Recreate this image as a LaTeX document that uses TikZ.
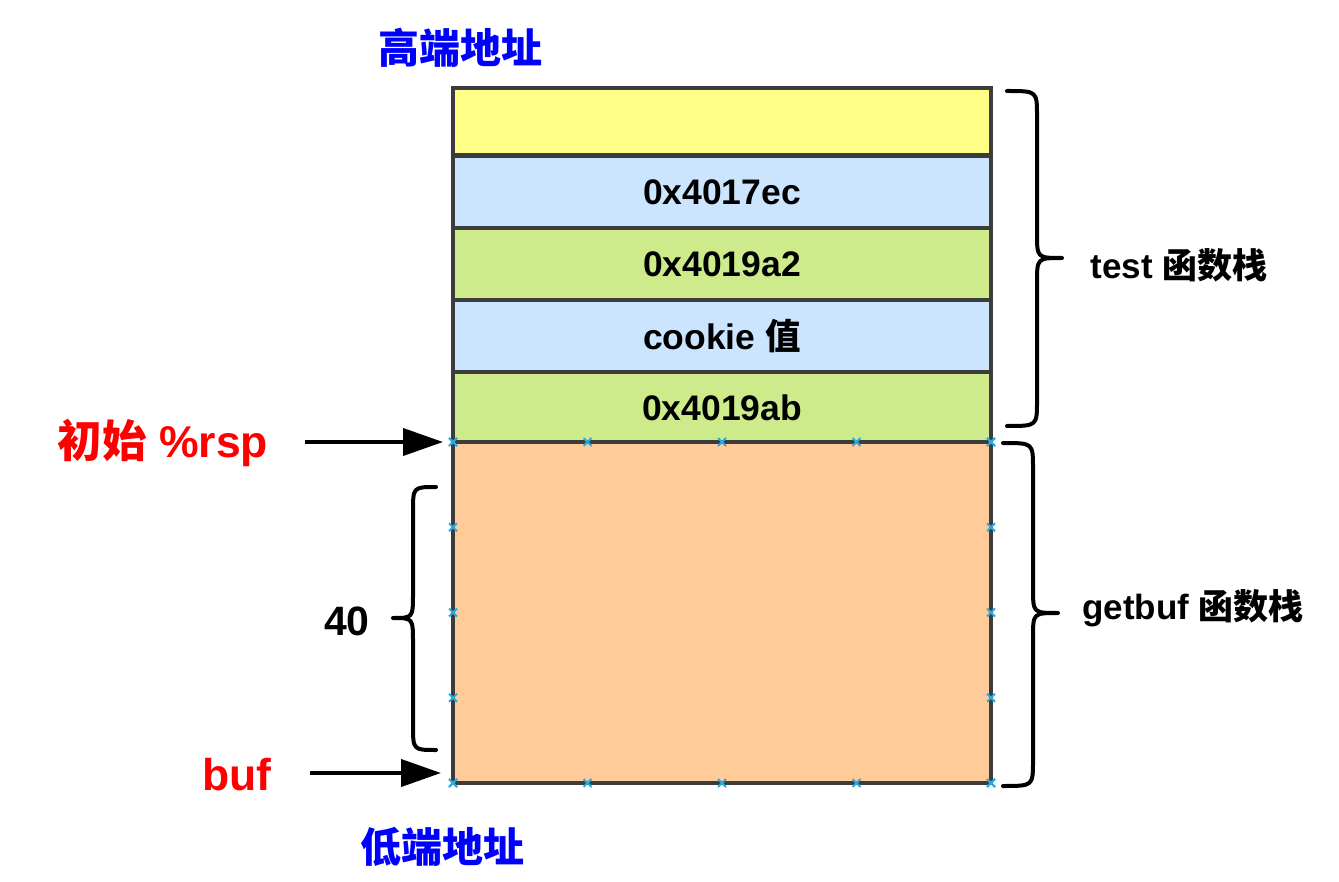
\documentclass[tikz,border=0pt]{standalone}
\usepackage{fontspec}
\setmainfont{Liberation Sans}
\newfontfamily\cjk{Noto Sans CJK SC}
\usetikzlibrary{arrows.meta,calc}
\definecolor{edgec}{HTML}{3C3C3C}
\definecolor{yel}{HTML}{FFFF88}
\definecolor{blu}{HTML}{CCE5FF}
\definecolor{grn}{HTML}{CDEB8B}
\definecolor{org}{HTML}{FFCC99}
\definecolor{mark}{RGB}{41,171,226}
\definecolor{lblblue}{RGB}{0,0,255}
\definecolor{lblred}{RGB}{255,0,0}
\newcommand{\mybrace}[6]{\draw[bracestyle] (#1,#4) .. controls (#2,#4) and (#2,#4) .. (#2,#4+25) -- (#2,#5-25) .. controls (#2,#5) and (#2,#5) .. (#3,#5) .. controls (#2,#5) and (#2,#5) .. (#2,#5+25) -- (#2,#6-25) .. controls (#2,#6) and (#2,#6) .. (#1,#6);}
\begin{document}
\begin{tikzpicture}[x=1pt,y=-1pt,
  cell/.style={draw=edgec,line width=4.5pt,minimum width=538pt,inner sep=0pt,outer sep=0pt,
    font=\fontsize{35.5}{40}\selectfont\bfseries},
  bracestyle/.style={line width=4pt,line join=round,line cap=round},
  arr/.style={line width=4pt,-{Triangle[length=40pt,width=27pt]}},
  lbl/.style={inner sep=0pt,font=\fontsize{41}{48}\selectfont\bfseries},
  redlbl/.style={inner sep=0pt,text=lblred,font=\fontsize{44.5}{50}\selectfont\bfseries},
  side/.style={inner sep=0pt,font=\fontsize{35}{40}\selectfont\bfseries},
  mk/.style={draw=mark,line width=1.8pt}]
\useasboundingbox (0,0) rectangle (1339,882);
\node[cell,fill=yel,minimum height=67pt] (r1) at (722,121.5) {};
\node[cell,fill=blu,minimum height=72pt] (r2) at (722,192) {0x4017ec};
\node[cell,fill=grn,minimum height=72pt] (r3) at (722,264) {0x4019a2};
\node[cell,fill=blu,minimum height=72pt] (r4) at (722,336) {cookie {\cjk 值}};
\node[cell,fill=grn,minimum height=71pt] (r5) at (722,407.5) {0x4019ab};
\node[cell,fill=org,minimum height=341pt] (r6) at (722,612.5) {};
% connection markers
\foreach \t in {0,0.25,0.5,0.75,1}{
  \coordinate (m1) at ($(r6.north west)!\t!(r6.north east)$);
  \coordinate (m2) at ($(r6.south west)!\t!(r6.south east)$);
  \coordinate (m3) at ($(r6.north west)!\t!(r6.south west)$);
  \coordinate (m4) at ($(r6.north east)!\t!(r6.south east)$);
  \foreach \m in {m1,m2,m3,m4}{
    \draw[mk] ($(\m)+(-4,-4)$) -- ($(\m)+(4,4)$) ($(\m)+(-4,4)$) -- ($(\m)+(4,-4)$);
  }
}
% labels
\node[lbl,text=lblblue] (hi) at (460,48) {\cjk 高端地址};
\node[lbl,text=lblblue] (lo) at (442,847) {\cjk 低端地址};
\node[redlbl] (rsp) at (163,443) {{\cjk 初始} \%rsp};
\node[redlbl] (buf) at (237,775) {buf};
\node[lbl] (forty) at (347,621) {40};
\node[side] (tst) at (1179,265) {test {\cjk 函数栈}};
\node[side] (gb) at (1193,608) {getbuf {\cjk 函数栈}};
% arrows
\coordinate (a1) at (305,442);
\coordinate (a2) at (310,773);
\draw[arr,shorten >=10pt] (a1) -- (r6.north west);
\draw[arr,shorten >=12pt] (a2) -- (r6.south west |- a2);
% braces
\mybrace{1007}{1037}{1062}{91}{258}{426}
\mybrace{1003}{1033}{1058}{443}{613}{786}
\mybrace{436}{413}{393}{487}{618}{750}
\end{tikzpicture}
\end{document}
